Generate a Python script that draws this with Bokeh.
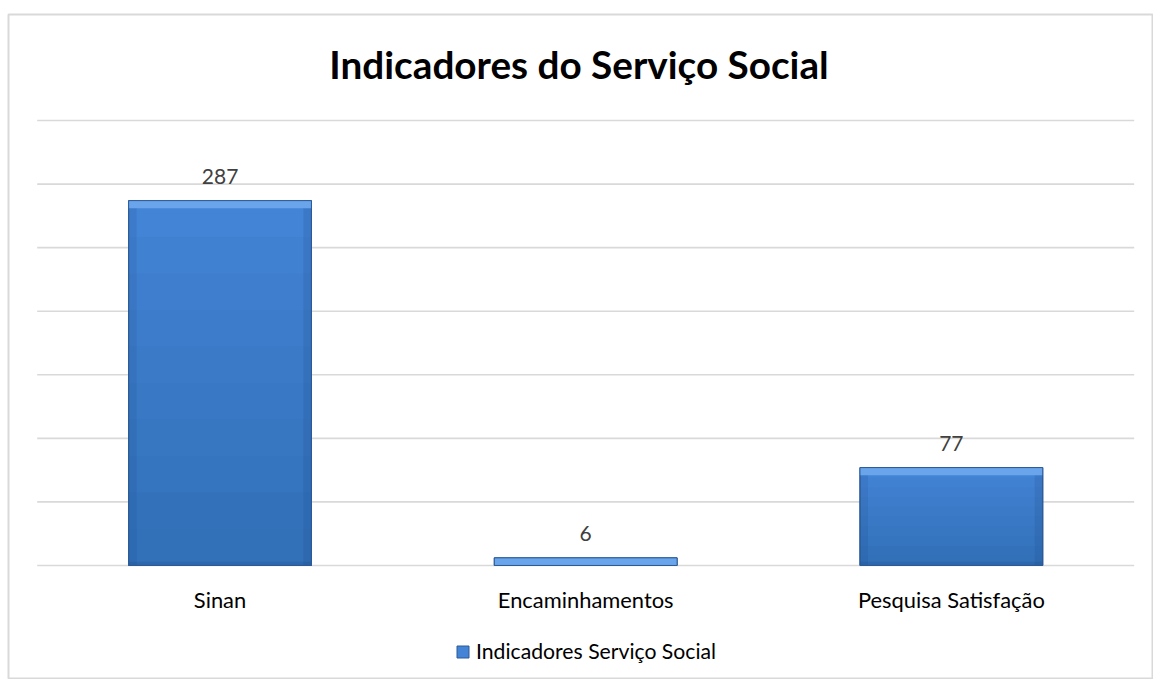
from bokeh.plotting import figure
from bokeh.models import Range1d, Legend, LegendItem, ColumnDataSource
from bokeh.embed import file_html
from bokeh.resources import INLINE
from bokeh.core.properties import value

categories = ["Sinan", "Encaminhamentos", "Pesquisa Satisfação"]
values = [287, 6, 77]
grid_ticks = [0, 50, 100, 150, 200, 250, 300, 350]
series_name = "Indicadores Serviço Social"
title_text = "Indicadores do Serviço Social"

FONT = "Lato"
n = len(categories)
xs = [i + 0.5 for i in range(n)]

bar_w = 0.5
bevel = 6.0
edge_w = 0.022
shade_steps = [0.9, 0.8, 0.7, 0.6, 0.5, 0.4, 0.3, 0.2, 0.1]

data = dict(x=xs, cat=categories, top=values,
            label=[str(v) for v in values],
            bev=[v - min(v, bevel) for v in values],
            bot=[min(v, 3.0) for v in values],
            xl=[x - bar_w / 2 + edge_w / 2 for x in xs],
            xr=[x + bar_w / 2 - edge_w / 2 for x in xs],
            zero=[0] * n)
for k, f in enumerate(shade_steps):
    data[f"s{k}"] = [v * f for v in values]
src = ColumnDataSource(data)

x_range = Range1d(-0.0785, 3.0528)
p = figure(
    width=1153, height=679,
    x_range=x_range,
    y_range=Range1d(-89.7, 433.4),
    x_axis_type=None, y_axis_type=None,
    output_backend="svg", toolbar_location=None,
    min_border_left=8, min_border_right=0, min_border_top=14, min_border_bottom=0,
)
p.grid.visible = False
p.outline_line_color = "#d9d9d9"
p.outline_line_width = 2
p.background_fill_color = "white"
p.border_fill_color = "white"

# horizontal gridlines spanning the category area
p.segment(x0=[0] * len(grid_ticks), x1=[n] * len(grid_ticks),
          y0=grid_ticks, y1=grid_ticks, line_color="#d9d9d9", line_width=1.6)

# bars: base + smooth-ish gradient + edges + top bevel
main = p.vbar(x="x", top="top", bottom=0, width=bar_w, source=src,
              fill_color="#4384d6", line_color="#2d5b96", line_width=1)
for k in range(len(shade_steps)):
    p.vbar(x="x", top=f"s{k}", bottom=0, width=bar_w, source=src,
           fill_color="#1a4684", fill_alpha=0.04, line_color=None)
p.vbar(x="xl", top="top", bottom=0, width=edge_w, source=src,
       fill_color="#1a4684", fill_alpha=0.14, line_color=None)
p.vbar(x="xr", top="top", bottom=0, width=edge_w, source=src,
       fill_color="#1a4684", fill_alpha=0.18, line_color=None)
p.vbar(x="x", top="bot", bottom=0, width=bar_w, source=src,
       fill_color="#1a4684", fill_alpha=0.2, line_color=None)
p.vbar(x="x", top="top", bottom="bev", width=bar_w, source=src,
       fill_color="#6aa5ec", line_color=None)
p.vbar(x="x", top="top", bottom=0, width=bar_w, source=src,
       fill_alpha=0, line_color="#2d5b96", line_width=1)

# value labels
p.text(x="x", y="top", text="label", source=src, y_offset=-24,
       text_align="center", text_baseline="alphabetic",
       text_font=value(FONT), text_font_size="21px", text_color="#404040")

# category labels
p.text(x="x", y="zero", text="cat", source=src, y_offset=34,
       text_align="center", text_baseline="alphabetic",
       text_font=value(FONT), text_font_size="21.9px", text_color="#000000")

# title
p.text(x=[(x_range.start + x_range.end) / 2], y=[383], text=[title_text],
       x_offset=-2, y_offset=-15, text_align="center", text_baseline="alphabetic",
       text_font=value(FONT), text_font_style="bold",
       text_font_size="38.7px", text_color="#000000")

legend = Legend(items=[LegendItem(label=series_name, renderers=[main])],
                orientation="horizontal", location=(447, 15),
                label_text_font=FONT, label_text_font_size="21.2px",
                label_text_color="#000000", border_line_color=None,
                background_fill_alpha=0,
                glyph_width=15, glyph_height=15, label_height=22,
                label_standoff=6, margin=0, padding=0)
p.add_layout(legend)

open("out.html", "w").write(file_html(p, INLINE))
